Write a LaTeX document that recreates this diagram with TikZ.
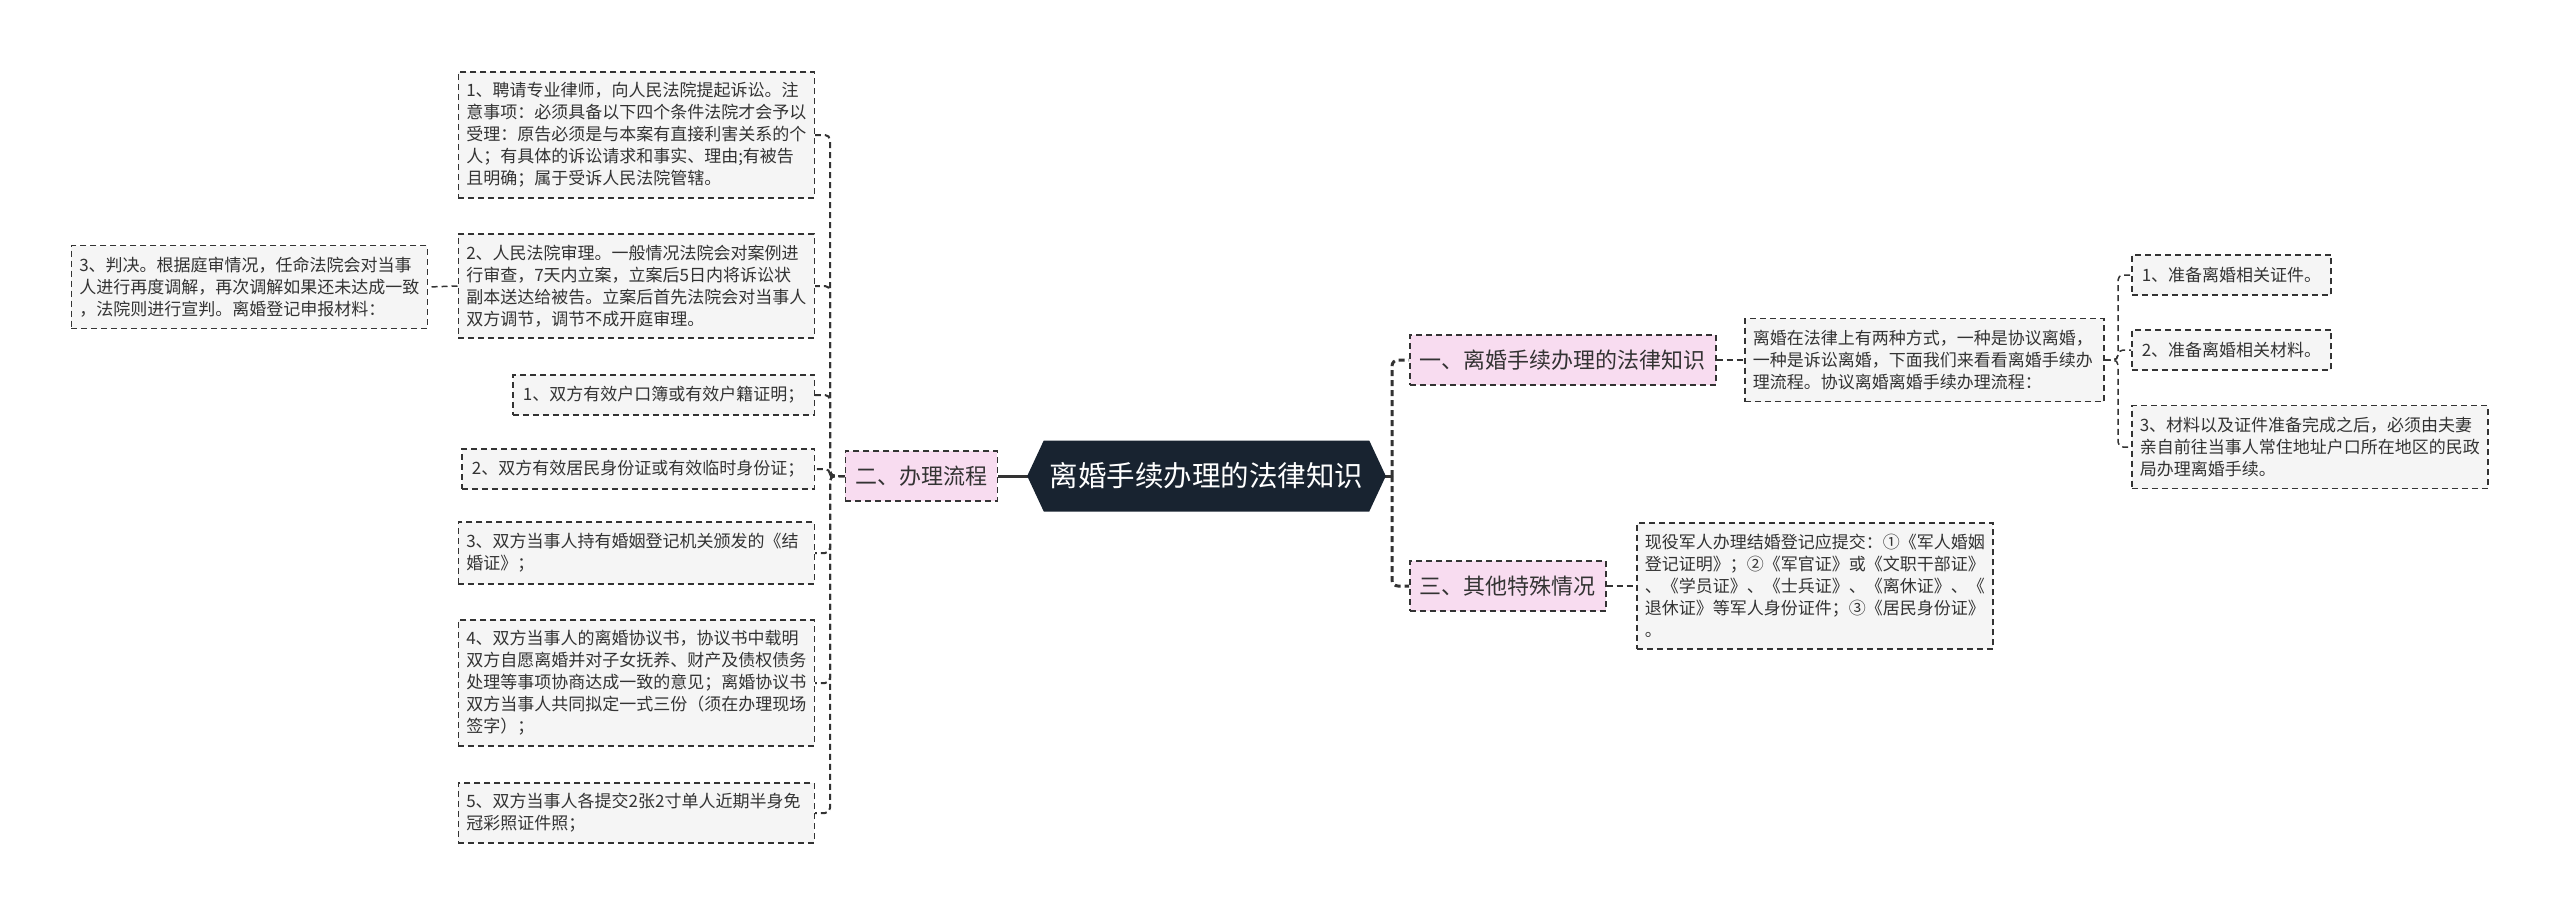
\documentclass[tikz,border=0pt]{standalone}
\usepackage{fontspec}
\setmainfont{Noto Sans CJK SC}
\usetikzlibrary{shapes.symbols,backgrounds}
\definecolor{txt}{HTML}{333333}
\definecolor{bord}{HTML}{333333}
\definecolor{boxfill}{HTML}{F5F5F5}
\definecolor{pinkfill}{RGB}{248,220,240}
\definecolor{rootcol}{RGB}{24,35,48}
\tikzset{
  every node/.style={text=txt},
  leaf/.style={draw=bord, line width=1.5pt, dash pattern=on 6pt off 4pt, fill=boxfill,
    font=\fontsize{17}{22}\selectfont, inner xsep=8pt, inner ysep=8pt, align=left},
  leafw/.style={leaf, text width=340pt},
  topic/.style={draw=bord, line width=1.5pt, dash pattern=on 6pt off 4pt, fill=pinkfill,
    font=\fontsize{22}{27}\selectfont, inner xsep=10pt, minimum height=50pt},
  rootnode/.style={signal, signal to=east and west, signal pointer angle=130,
    fill=rootcol, text=white, font=\fontsize{28.5}{34}\selectfont,
    minimum width=349pt, minimum height=71pt, inner xsep=6pt},
  thinconn/.style={draw=bord, line width=1.5pt, dash pattern=on 6pt off 4pt},
  midconn/.style={draw=bord, line width=2pt, dash pattern=on 6pt off 4pt, rounded corners=5pt},
  thickconn/.style={draw=bord, line width=3pt},
  thickdash/.style={draw=bord, line width=3pt, dash pattern=on 6pt off 4pt, rounded corners=6pt},
}
\begin{document}
\begin{tikzpicture}[x=1pt,y=-1pt]
\useasboundingbox (0,0) rectangle (2560,916);

% root
\node[rootnode] (root) at (1206.5,476) {离婚手续办理的法律知识};

% main topics
\node[topic, anchor=east] (er) at (998,476) {二、办理流程};
\node[topic, anchor=west] (yi) at (1409,360) {一、离婚手续办理的法律知识};
\node[topic, anchor=west] (san) at (1409,586) {三、其他特殊情况};

% left children
\node[leafw, anchor=east, minimum height=126pt] (c1) at (815,135) {1、聘请专业律师，向人民法院提起诉讼。注\\意事项：必须具备以下四个条件法院才会予以\\受理：原告必须是与本案有直接利害关系的个\\人；有具体的诉讼请求和事实、理由;有被告\\且明确；属于受诉人民法院管辖。};
\node[leafw, anchor=east, minimum height=104pt] (c2) at (815,286) {2、人民法院审理。一般情况法院会对案例进\\行审查，7天内立案，立案后5日内将诉讼状\\副本送达给被告。立案后首先法院会对当事人\\双方调节，调节不成开庭审理。};
\node[leafw, anchor=east, minimum height=83pt] (c3) at (428,287) {3、判决。根据庭审情况，任命法院会对当事\\人进行再度调解，再次调解如果还未达成一致\\，法院则进行宣判。离婚登记申报材料：};
\node[leaf, anchor=east, minimum height=40pt, inner xsep=10pt] (c4) at (815,395) {1、双方有效户口簿或有效户籍证明；};
\node[leaf, anchor=east, minimum height=40pt, inner xsep=10pt] (c5) at (815,469) {2、双方有效居民身份证或有效临时身份证；};
\node[leafw, anchor=east, minimum height=62pt] (c6) at (815,553) {3、双方当事人持有婚姻登记机关颁发的《结\\婚证》；};
\node[leafw, anchor=east, minimum height=126pt] (c7) at (815,683) {4、双方当事人的离婚协议书，协议书中载明\\双方自愿离婚并对子女抚养、财产及债权债务\\处理等事项协商达成一致的意见；离婚协议书\\双方当事人共同拟定一式三份（须在办理现场\\签字）；};
\node[leafw, anchor=east, minimum height=60pt] (c8) at (815,813) {5、双方当事人各提交2张2寸单人近期半身免\\冠彩照证件照；};

% right side
\node[leaf, text width=343pt, anchor=west, minimum height=83pt] (d1) at (1744,360) {离婚在法律上有两种方式，一种是协议离婚，\\一种是诉讼离婚，下面我们来看看离婚手续办\\理流程。协议离婚离婚手续办理流程：};
\node[leafw, anchor=west, minimum height=126pt] (d3) at (1636,586) {现役军人办理结婚登记应提交：①《军人婚姻\\登记证明》；②《军官证》或《文职干部证》\\、《学员证》、《士兵证》、《离休证》、《\\退休证》等军人身份证件；③《居民身份证》\\。};
\node[leaf, anchor=west, minimum height=40pt, inner xsep=10pt] (r1) at (2131,275) {1、准备离婚相关证件。};
\node[leaf, anchor=west, minimum height=40pt, inner xsep=10pt] (r2) at (2131,350) {2、准备离婚相关材料。};
\node[leafw, anchor=west, minimum height=83pt] (r3) at (2131,447) {3、材料以及证件准备完成之后，必须由夫妻\\亲自前往当事人常住地址户口所在地区的民政\\局办理离婚手续。};

\coordinate (L) at (830,476);
\coordinate (R) at (1392,476);
\coordinate (RR) at (2118,360);

\begin{pgfonlayer}{background}
\fill[white] (0,0) rectangle (2560,916);
\draw[thickconn] (root.center) -- (er.east);
\draw[thickconn] (root.center) -- (R);
\draw[thickdash] (R) |- (yi.west);
\draw[thickdash] (R) |- (san.west);
\foreach \c in {c1,c2,c4,c5,c6,c7,c8}{
  \draw[midconn] (er.west) -- (L) |- (\c.east);
}
\draw[thinconn] (c2.west) -- (c3.east);
\draw[thinconn] (yi.east) -- (d1.west);
\draw[thinconn] (san.east) -- (d3.west);
\foreach \c in {r1,r2,r3}{
  \draw[thinconn, rounded corners=5pt] (d1.east) -- (RR) |- (\c.west);
}
\end{pgfonlayer}
\end{tikzpicture}
\end{document}
